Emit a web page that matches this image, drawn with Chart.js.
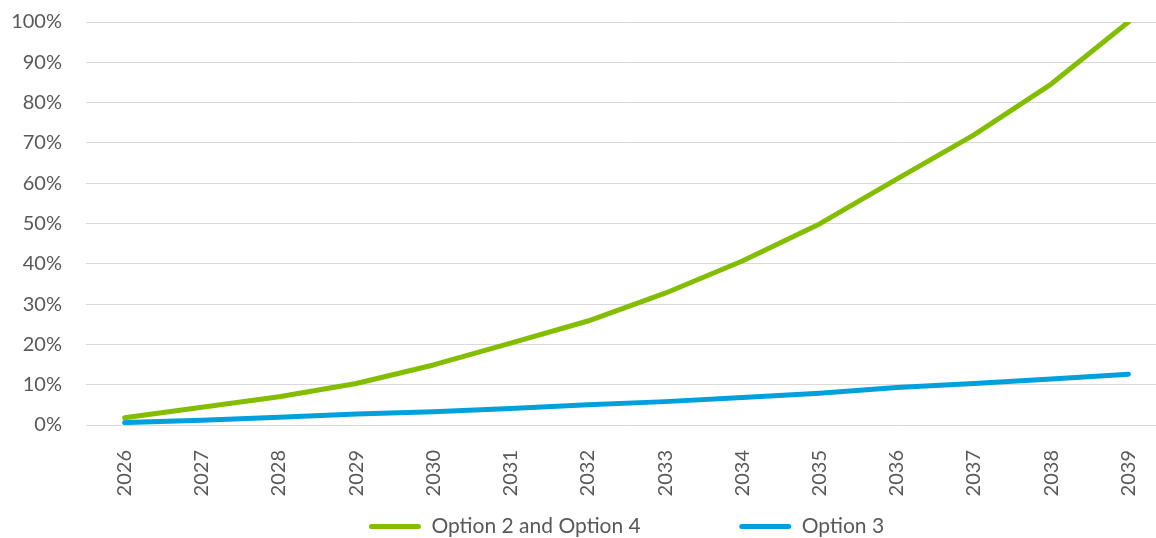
<!DOCTYPE html>
<html>
<head>
<meta charset="utf-8">
<script src="https://cdn.jsdelivr.net/npm/chart.js@4.4.1/dist/chart.umd.min.js"></script>
<style>
  html, body { margin: 0; padding: 0; background: #fff; overflow: hidden; }
  #shareChart { display: block; margin-top: -14px; }
</style>
</head>
<body>
<canvas id="shareChart" width="1170" height="554"></canvas>
<script>
const years = ["2026","2027","2028","2029","2030","2031","2032","2033","2034","2035","2036","2037","2038","2039"];
const option2and4 = [1.8, 4.4, 7.0, 10.3, 14.9, 20.3, 25.8, 32.7, 40.7, 49.9, 61.0, 72.0, 84.6, 100];
const option3 = [0.6, 1.2, 1.9, 2.7, 3.3, 4.1, 5.0, 5.8, 6.8, 7.9, 9.3, 10.3, 11.4, 12.6];
const seriesNames = ["Option 2 and Option 4", "Option 3"];

const GREEN = "#84bd00";
const BLUE = "#00a0dc";
const TEXT = "#595959";
const FONT = "Lato, 'Noto Sans', sans-serif";

// extra room after the first legend entry
const legendGap = "\u2003\u2003\u2003\u2003\u2003\u2003";

const ctx = document.getElementById("shareChart");

new Chart(ctx, {
    type: "line",
    data: {
        labels: years,
        datasets: [
            {
                label: seriesNames[0],
                data: option2and4,
                borderColor: GREEN,
                backgroundColor: GREEN,
                borderWidth: 5,
                pointRadius: 0,
                borderCapStyle: "round",
                borderJoinStyle: "round",
                tension: 0
            },
            {
                label: seriesNames[1],
                data: option3,
                borderColor: BLUE,
                backgroundColor: BLUE,
                borderWidth: 5,
                pointRadius: 0,
                borderCapStyle: "round",
                borderJoinStyle: "round",
                tension: 0
            }
        ]
    },
    options: {
        responsive: false,
        animation: false,
        layout: { padding: { top: -2, right: 3, left: 0, bottom: -7 } },
        plugins: {
            tooltip: { enabled: false },
            legend: {
                position: "bottom",
                fullSize: false,
                labels: {
                    color: TEXT,
                    font: { family: FONT, size: 21 },
                    boxWidth: 52,
                    boxHeight: 5,
                    padding: 4,
                    useBorderRadius: true,
                    borderRadius: 2.5,
                    generateLabels(chart) {
                        return chart.data.datasets.map((ds, i) => ({
                            text: i === 0 ? ds.label + legendGap : ds.label,
                            fillStyle: ds.borderColor,
                            strokeStyle: ds.borderColor,
                            lineWidth: 0,
                            fontColor: TEXT,
                            borderRadius: 2.5,
                            hidden: false,
                            datasetIndex: i
                        }));
                    }
                }
            }
        },
        scales: {
            x: {
                offset: true,
                grid: { display: false },
                border: { display: false },
                ticks: {
                    color: TEXT,
                    font: { family: FONT, size: 20 },
                    minRotation: 90,
                    maxRotation: 90,
                    padding: 17
                },
                afterFit(scale) { scale.height = 87; }
            },
            y: {
                min: 0,
                max: 100,
                grid: { color: "#d9d9d9", lineWidth: 1, drawTicks: false },
                border: { display: false },
                ticks: {
                    stepSize: 10,
                    color: TEXT,
                    font: { family: FONT, size: 20 },
                    padding: 24,
                    callback: v => v + "%"
                },
                afterFit(scale) { scale.width = 86; }
            }
        }
    }
});
</script>
</body>
</html>
